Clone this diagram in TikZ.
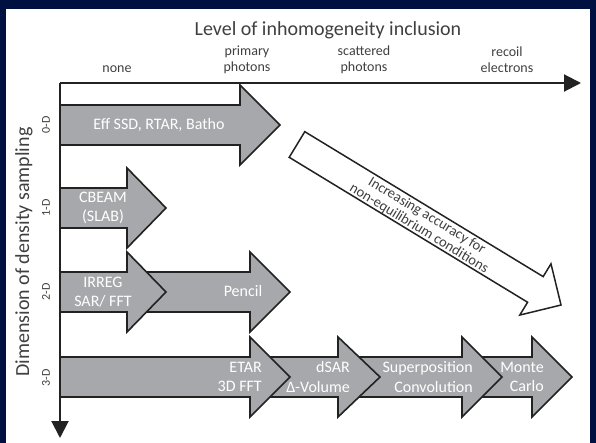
\documentclass[tikz,border=0pt]{standalone}
\usepackage{fontspec}
\setmainfont{Carlito}
\usetikzlibrary{arrows.meta}
\definecolor{navy}{RGB}{0,16,64}
\definecolor{arrgray}{RGB}{166,168,171}
\definecolor{txtgray}{RGB}{64,64,64}
\definecolor{edgecol}{RGB}{34,34,34}
\newcommand\fatarrow[4]{%
  \draw[fatarr] (#1,#4-20) -- (#2,#4-20) -- (#2,#4-40) -- (#3,#4)
    -- (#2,#4+40) -- (#2,#4+20) -- (#1,#4+20) -- cycle;}
\begin{document}
\begin{tikzpicture}[x=1pt,y=-1pt,
  fatarr/.style={draw=edgecol, line width=1.6pt, fill=arrgray, line join=miter},
  intext/.style={text=white, font=\fontsize{16}{19.5}\selectfont, align=center, inner sep=0pt},
  inright/.style={intext, align=right, anchor=east},
  collabel/.style={text=txtgray, font=\fontsize{14}{16}\selectfont, align=center, inner sep=0pt},
  rowlabel/.style={text=txtgray, font=\fontsize{12}{13}\selectfont, rotate=90, inner sep=0pt},
  biglabel/.style={text=txtgray, font=\fontsize{20}{24}\selectfont, inner sep=0pt},
  axisline/.style={draw=edgecol, line width=2pt, -{Triangle[length=17pt,width=17pt]}}]
\useasboundingbox (0,0) rectangle (596,443);
\fill[navy] (0,0) rectangle (596,443);
\fill[white] (6,9) rectangle (590,443);

% 0-D
\fatarrow{60}{240}{280}{125}
\node[intext] (effssd) at (159,125) {Eff SSD, RTAR, Batho};
% 1-D
\fatarrow{60}{127}{166}{208}
\node[intext] (cbeam) at (103,208) {CBEAM\\(SLAB)};
% 2-D
\fatarrow{60}{250}{290}{292}
\node[intext] (pencil) at (243,291) {Pencil};
\fatarrow{60}{127}{166}{292}
\node[intext] (irreg) at (103,292) {IRREG\\SAR/ FFT};
% 3-D
\fatarrow{60}{532}{572}{377}
\node[inright] (monte) at (544,377) {Monte\\Carlo};
\fatarrow{60}{462}{502}{377}
\node[inright] (superpos) at (473,377) {Superposition\\Convolution};
\fatarrow{60}{338}{380}{377}
\node[inright] (dsar) at (350,377) {dSAR\\Δ-Volume};
\fatarrow{60}{250}{290}{377}
\node[inright] (etar) at (262,377) {ETAR\\3D FFT};

% diagonal white arrow
\begin{scope}[shift={(297,144.5)}, rotate=-31.3]
  \draw[draw=edgecol, line width=1.5pt, fill=white, line join=miter]
    (0,-15) -- (279,-15) -- (279,-30) -- (309,0) -- (279,30) -- (279,15) -- (0,15) -- cycle;
  \node[text=txtgray, font=\fontsize{14.5}{15}\selectfont, align=center, inner sep=0pt,
        rotate=-31.3] (accuracy) at (148,1) {Increasing accuracy for\\non-equilibrium conditions};
\end{scope}

% axes
\coordinate (O) at (60,83);
\coordinate (xend) at (581,83);
\coordinate (yend) at (60,438);
\draw[axisline] (O) -- (xend);
\draw[axisline] (O) -- (yend);

% labels
\node[biglabel] (title) at (328,30) {Level of inhomogeneity inclusion};
\node[biglabel, rotate=90] (ylabel) at (24,252) {Dimension of density sampling};
\node[collabel] (none) at (117,69) {none};
\node[collabel] (primary) at (247,60) {primary\\photons};
\node[collabel] (scattered) at (364,60) {scattered\\photons};
\node[collabel] (recoil) at (507,60) {recoil\\electrons};
\node[rowlabel] (d0) at (46,125) {0-D};
\node[rowlabel] (d1) at (46,208) {1-D};
\node[rowlabel] (d2) at (46,292) {2-D};
\node[rowlabel] (d3) at (46,378) {3-D};
\end{tikzpicture}
\end{document}
